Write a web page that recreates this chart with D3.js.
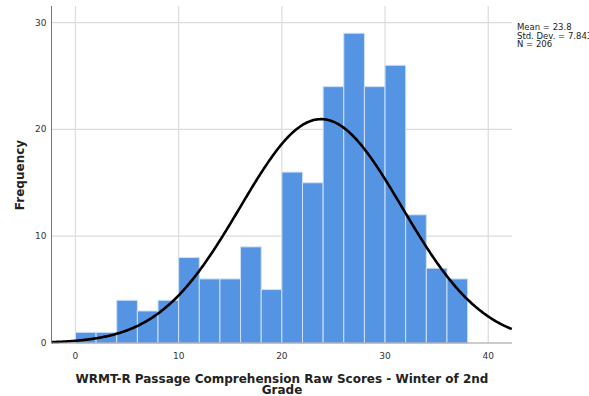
<!DOCTYPE html>
<html>
<head>
<meta charset="utf-8">
<script src="https://cdn.jsdelivr.net/npm/d3@7"></script>
<style>
  body { margin: 0; background: #fff; }
  text { font-family: "DejaVu Sans", sans-serif; }
</style>
</head>
<body>
<svg id="chart" width="589" height="396"></svg>
<script>
// histogram bins (width 2) and counts
var binStarts = [0,2,4,6,8,10,12,14,16,18,20,22,24,26,28,30,32,34,36];
var counts = [1,1,4,3,4,8,6,6,9,5,16,15,24,29,24,26,12,7,6];
var binWidth = 2;
var xTicks = [0,10,20,30,40];
var yTicks = [0,10,20,30];
var mean = 23.8, sd = 7.843, n = 206;
var statLines = ["Mean = 23.8", "Std. Dev. = 7.843", "N = 206"];

var plotLeft = 51.5, plotRight = 512, plotTop = 6, plotBottom = 343;

var x = d3.scaleLinear().domain([-2.32, 42.3]).range([plotLeft, plotRight]);
var y = d3.scaleLinear().domain([0, 31.55]).range([plotBottom, plotTop]);

var svg = d3.select("#chart");

// grid
svg.append("g").selectAll("line").data(xTicks).enter().append("line")
  .attr("x1", function(d){ return x(d); }).attr("x2", function(d){ return x(d); })
  .attr("y1", plotTop).attr("y2", plotBottom)
  .attr("stroke", "#dcdcdc").attr("stroke-width", 1.2);
svg.append("g").selectAll("line").data(yTicks.slice(1)).enter().append("line")
  .attr("x1", plotLeft).attr("x2", plotRight)
  .attr("y1", function(d){ return y(d); }).attr("y2", function(d){ return y(d); })
  .attr("stroke", "#dcdcdc").attr("stroke-width", 1.2);

// bars
svg.append("g").selectAll("rect").data(counts).enter().append("rect")
  .attr("x", function(d,i){ return x(binStarts[i]); })
  .attr("width", function(d,i){ return x(binStarts[i] + binWidth) - x(binStarts[i]); })
  .attr("y", function(d){ return y(d); })
  .attr("height", function(d){ return y(0) - y(d); })
  .attr("fill", "#5593e3")
  .attr("stroke", "#cfe0f7").attr("stroke-width", 1);

// normal curve
var curveXs = d3.range(-2.32, 42.31, 0.1);
var line = d3.line()
  .x(function(d){ return x(d); })
  .y(function(d){
    var z = (d - mean) / sd;
    return y(n * binWidth * Math.exp(-0.5 * z * z) / (sd * Math.sqrt(2 * Math.PI)));
  });
svg.append("path").datum(curveXs).attr("d", line)
  .attr("fill", "none").attr("stroke", "#000").attr("stroke-width", 2.6);

// axes lines
svg.append("line").attr("x1", plotLeft).attr("x2", plotLeft).attr("y1", plotTop).attr("y2", plotBottom)
  .attr("stroke", "#777").attr("stroke-width", 1);
svg.append("line").attr("x1", plotLeft).attr("x2", plotRight).attr("y1", plotBottom).attr("y2", plotBottom)
  .attr("stroke", "#999").attr("stroke-width", 1.2);

// tick labels
svg.append("g").selectAll("text").data(xTicks).enter().append("text")
  .attr("x", function(d){ return x(d); }).attr("y", plotBottom + 16)
  .attr("text-anchor", "middle").attr("font-size", 9).attr("fill", "#333")
  .text(function(d){ return d; });
svg.append("g").selectAll("text").data(yTicks).enter().append("text")
  .attr("x", plotLeft - 5).attr("y", function(d){ return y(d) + 3; })
  .attr("text-anchor", "end").attr("font-size", 9).attr("fill", "#333")
  .text(function(d){ return d; });

// axis titles
svg.append("text").attr("x", 282).attr("y", 383)
  .attr("text-anchor", "middle").attr("font-size", 12).attr("font-weight", "bold")
  .attr("fill", "#222")
  .text("WRMT-R Passage Comprehension Raw Scores - Winter of 2nd");
svg.append("text").attr("x", 282).attr("y", 394)
  .attr("text-anchor", "middle").attr("font-size", 12).attr("font-weight", "bold")
  .attr("fill", "#222")
  .text("Grade");
svg.append("text").attr("transform", "translate(24,175) rotate(-90)")
  .attr("text-anchor", "middle").attr("font-size", 12).attr("font-weight", "bold")
  .attr("fill", "#222")
  .text("Frequency");

// stats
svg.append("g").selectAll("text").data(statLines).enter().append("text")
  .attr("x", 517).attr("y", function(d,i){ return 30 + i * 8.5; })
  .attr("font-size", 8.5).attr("fill", "#222")
  .text(function(d){ return d; });
</script>
</body>
</html>
